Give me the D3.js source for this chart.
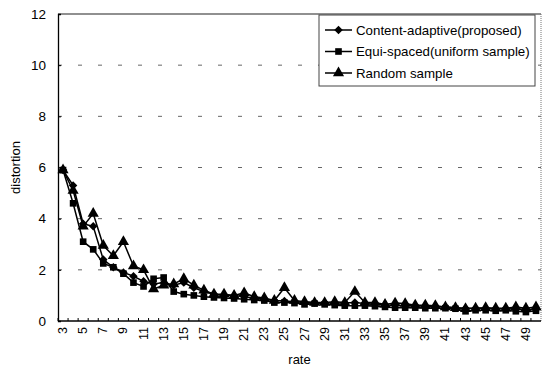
<!DOCTYPE html>
<html>
<head>
<meta charset="utf-8">
<script src="https://cdn.jsdelivr.net/npm/d3@7"></script>
<style>
  body { margin: 0; background: #fff; }
  text { font-family: "Liberation Sans", Arial, sans-serif; fill: #000; }
</style>
</head>
<body>
<script>
// Chart data
var rates = d3.range(3, 51); // 3 .. 50
var tickRates = [3, 5, 7, 9, 11, 13, 15, 17, 19, 21, 23, 25, 27, 29, 31, 33, 35, 37, 39, 41, 43, 45, 47, 49];
var yTicks = [0, 2, 4, 6, 8, 10, 12];
var seriesNames = ["Content-adaptive(proposed)", "Equi-spaced(uniform sample)", "Random sample"];

var contentAdaptive = [5.9, 5.3, 3.8, 3.7, 2.4, 2.1, 1.9, 1.75, 1.55, 1.45, 1.5, 1.4, 1.5, 1.3, 1.15, 1.05,
  1.0, 1.0, 0.95, 0.9, 0.85, 0.8, 0.78, 0.75, 0.72, 0.72, 0.7, 0.7, 0.7, 0.72, 0.68, 0.65,
  0.63, 0.62, 0.6, 0.6, 0.58, 0.57, 0.55, 0.52, 0.5, 0.5, 0.5, 0.48, 0.48, 0.47, 0.46, 0.45];
var equiSpaced = [5.9, 4.6, 3.1, 2.8, 2.25, 2.1, 1.85, 1.5, 1.35, 1.65, 1.7, 1.15, 1.05, 1.0, 0.95, 0.92,
  0.9, 0.88, 0.85, 0.82, 0.8, 0.72, 0.72, 0.7, 0.65, 0.68, 0.65, 0.62, 0.6, 0.6, 0.6, 0.58,
  0.55, 0.52, 0.52, 0.52, 0.5, 0.5, 0.5, 0.48, 0.38, 0.42, 0.42, 0.4, 0.42, 0.38, 0.35, 0.4];
var randomSample = [5.9, 5.1, 3.7, 4.2, 2.95, 2.55, 3.1, 2.15, 2.0, 1.25, 1.4, 1.45, 1.65, 1.4, 1.2, 1.05,
  1.05, 1.0, 1.1, 0.95, 0.9, 0.8, 1.3, 0.8, 0.75, 0.72, 0.72, 0.75, 0.72, 1.15, 0.72, 0.72,
  0.65, 0.7, 0.68, 0.62, 0.62, 0.6, 0.55, 0.52, 0.48, 0.5, 0.52, 0.5, 0.5, 0.55, 0.5, 0.55];

var seriesValues = [contentAdaptive, equiSpaced, randomSample];
var markerTypes = [d3.symbolDiamond2, d3.symbolSquare, d3.symbolTriangle];
var markerSizes = [46, 44, 54];

var width = 550, height = 370;
var plotLeft = 58, plotRight = 541, plotTop = 14, plotBottom = 321;

var svg = d3.select("body")
  .append("svg")
  .attr("width", width)
  .attr("height", height);

var x = d3.scaleBand()
  .domain(rates)
  .range([plotLeft, plotRight]);

var y = d3.scaleLinear()
  .domain([0, 12])
  .range([plotBottom, plotTop]);

// dashed gridlines
svg.selectAll(".grid")
  .data(yTicks.filter(function (d) { return d > 0 && d < 12; }))
  .enter()
  .append("line")
  .attr("class", "grid")
  .attr("x1", plotLeft)
  .attr("x2", plotRight)
  .attr("y1", function (d) { return y(d); })
  .attr("y2", function (d) { return y(d); })
  .attr("stroke", "#666")
  .attr("stroke-width", 1)
  .attr("stroke-dasharray", "4,16");

// plot area border (top solid, right dotted)
svg.append("line")
  .attr("x1", plotLeft).attr("x2", plotRight)
  .attr("y1", plotTop).attr("y2", plotTop)
  .attr("stroke", "#222").attr("stroke-width", 1.2);
svg.append("line")
  .attr("x1", plotRight).attr("x2", plotRight)
  .attr("y1", plotTop).attr("y2", plotBottom)
  .attr("stroke", "#777").attr("stroke-width", 1)
  .attr("stroke-dasharray", "1,1");

// y axis
var yAxis = d3.axisLeft(y)
  .tickValues(yTicks)
  .tickSize(-3)
  .tickPadding(12);
var yg = svg.append("g")
  .attr("transform", "translate(" + plotLeft + ",0)")
  .call(yAxis);
yg.selectAll("text").style("font-size", "13.5px");
yg.select(".domain").attr("stroke-width", 1.3);

// x axis: ticks between categories
var xg = svg.append("g")
  .attr("transform", "translate(0," + plotBottom + ")");
xg.append("line")
  .attr("x1", plotLeft).attr("x2", plotRight)
  .attr("stroke", "#000").attr("stroke-width", 1.3);
xg.selectAll(".xtick")
  .data(rates)
  .enter()
  .append("line")
  .attr("class", "xtick")
  .attr("x1", function (d) { return x(d); })
  .attr("x2", function (d) { return x(d); })
  .attr("y1", 0)
  .attr("y2", -3)
  .attr("stroke", "#000");
xg.selectAll(".xlabel")
  .data(tickRates)
  .enter()
  .append("text")
  .attr("class", "xlabel")
  .attr("transform", function (d) {
    return "translate(" + (x(d) + x.bandwidth() / 2 + 4) + ",6) rotate(-90)";
  })
  .attr("text-anchor", "end")
  .style("font-size", "12.5px")
  .text(function (d) { return d; });

// axis titles
svg.append("text")
  .attr("x", (plotLeft + plotRight) / 2)
  .attr("y", 364)
  .attr("text-anchor", "middle")
  .style("font-size", "13px")
  .text("rate");
svg.append("text")
  .attr("transform", "translate(20," + ((plotTop + plotBottom) / 2) + ") rotate(-90)")
  .attr("text-anchor", "middle")
  .style("font-size", "13px")
  .text("distortion");

// series lines and markers
var line = d3.line()
  .x(function (d, i) { return x(rates[i]) + x.bandwidth() / 2; })
  .y(function (d) { return y(d); });

seriesValues.forEach(function (vals, s) {
  svg.append("path")
    .datum(vals)
    .attr("fill", "none")
    .attr("stroke", "#000")
    .attr("stroke-width", 1.5)
    .attr("d", line);

  svg.selectAll(".marker" + s)
    .data(vals)
    .enter()
    .append("path")
    .attr("class", "marker" + s)
    .attr("d", d3.symbol().type(markerTypes[s]).size(markerSizes[s]))
    .attr("transform", function (d, i) {
      return "translate(" + (x(rates[i]) + x.bandwidth() / 2) + "," + y(d) + ")";
    })
    .attr("fill", "#000");
});

// legend
var legend = svg.append("g");
legend.append("rect")
  .attr("x", 319).attr("y", 15)
  .attr("width", 216).attr("height", 71)
  .attr("fill", "#fff")
  .attr("stroke", "#444")
  .attr("stroke-width", 1);

var legendY = d3.scalePoint()
  .domain(seriesNames)
  .range([30, 73]);

seriesNames.forEach(function (name, s) {
  var ly = legendY(name);
  legend.append("line")
    .attr("x1", 325).attr("x2", 352)
    .attr("y1", ly).attr("y2", ly)
    .attr("stroke", "#000").attr("stroke-width", 1.5);
  legend.append("path")
    .attr("d", d3.symbol().type(markerTypes[s]).size(markerSizes[s])())
    .attr("transform", "translate(338.5," + ly + ")")
    .attr("fill", "#000");
  legend.append("text")
    .attr("x", 356)
    .attr("y", ly + 4.5)
    .style("font-size", "13.3px")
    .text(name);
});
</script>
</body>
</html>
